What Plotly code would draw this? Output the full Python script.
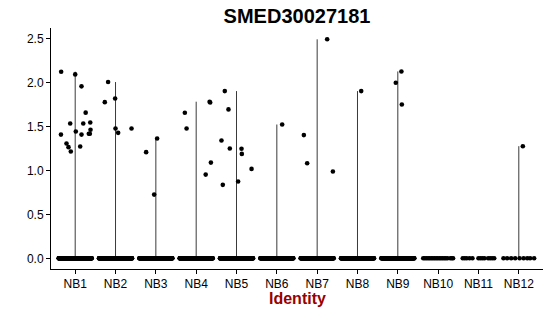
import numpy as np
import plotly.graph_objects as go

categories = ["NB1", "NB2", "NB3", "NB4", "NB5", "NB6", "NB7", "NB8", "NB9", "NB10", "NB11", "NB12"]

# non-zero expression values per identity
nonzero_values = [
    [2.127, 2.096, 1.96, 1.66, 1.537, 1.537, 1.548, 1.465, 1.42, 1.42, 1.445, 1.41, 1.41, 1.308, 1.267, 1.217, 1.274],
    [2.009, 1.78, 1.822, 1.48, 1.43, 1.48],
    [1.21, 1.366, 0.726],
    [1.659, 1.48, 1.785, 1.775, 1.091, 0.954],
    [1.906, 1.697, 1.343, 1.251, 1.248, 1.19, 1.019, 0.837, 0.875],
    [1.525],
    [2.496, 1.404, 1.084, 0.989],
    [1.906],
    [2.13, 2.001, 1.753],
    [],
    [],
    [1.278],
]
# observed horizontal jitter of those points (category units)
jitter_offsets = [
    [-0.348, 0.0, 0.156, 0.26, -0.124, 0.20, 0.373, 0.38, 0.338, 0.363, 0.015, 0.156, -0.353, -0.216, -0.166, -0.109, 0.124],
    [-0.184, -0.266, -0.01, 0.0, 0.065, 0.397],
    [-0.241, 0.032, -0.042],
    [-0.281, -0.238, 0.333, 0.348, 0.365, 0.236],
    [-0.29, -0.199, -0.373, -0.166, 0.124, 0.132, 0.373, -0.34, 0.04],
    [0.132],
    [0.248, -0.33, -0.248, 0.39],
    [0.092],
    [0.089, -0.05, 0.1],
    [],
    [],
    [0.1],
]
# estimated number of cells with zero expression
zero_counts = [220, 220, 180, 220, 220, 150, 150, 170, 130, 24, 14, 9]
# observed jitter of zero-valued cells in the sparse identities
zero_offsets_sparse = {
    9: [-0.37, -0.33, -0.29, -0.25, -0.21, -0.17, -0.13, -0.09, -0.05, -0.01, 0.03,
        0.07, 0.11, 0.15, 0.19, 0.23, 0.30, 0.34, 0.37],
    10: [-0.39, -0.34, -0.29, -0.22, -0.15, 0.0, 0.05, 0.10, 0.15, 0.24, 0.29, 0.34, 0.39],
    11: [-0.38, -0.29, -0.19, -0.09, 0.02, 0.12, 0.21, 0.28, 0.38],
}
zero_spread = 0.41

yticks = [0.0, 0.5, 1.0, 1.5, 2.0, 2.5]

fig = go.Figure()

# violin outlines (collapsed to thin lines since most values are zero)
lx, ly = [], []
for i, vals in enumerate(nonzero_values):
    if vals:
        lx += [i + 1, i + 1, None]
        ly += [0, max(vals), None]
fig.add_trace(go.Scatter(x=lx, y=ly, mode="lines",
                         line=dict(color="#3a3a3a", width=1),
                         hoverinfo="skip", showlegend=False))

# points
px, py = [], []
for i, (vals, offs) in enumerate(zip(nonzero_values, jitter_offsets)):
    if i in zero_offsets_sparse:
        zo = zero_offsets_sparse[i]
    else:
        zo = np.linspace(-zero_spread, zero_spread, zero_counts[i])
    px += [i + 1 + o for o in zo]
    py += [0.0] * len(zo)
    px += [i + 1 + o for o in offs]
    py += vals
fig.add_trace(go.Scatter(x=px, y=py, mode="markers",
                         marker=dict(color="black", size=4.6, line=dict(width=0)),
                         showlegend=False))

font_family = "Liberation Sans, Arial, sans-serif"

fig.update_layout(
    width=550, height=316,
    margin=dict(l=51, r=7, t=28, b=47),
    paper_bgcolor="white", plot_bgcolor="white",
    font=dict(family=font_family, color="black", size=12),
    title=dict(text="SMED30027181", x=(51 + 543) / 2 / 550, xanchor="center",
               y=1 - 16 / 316, yanchor="middle", yref="container",
               font=dict(size=20, family=font_family, color="black", weight="bold")),
    xaxis=dict(range=[0.4, 12.6], tickmode="array",
               tickvals=list(range(1, len(categories) + 1)), ticktext=categories,
               showgrid=False, zeroline=False, showline=True, linecolor="black", linewidth=1,
               ticks="outside", ticklen=4, tickcolor="black", tickwidth=1,
               tickfont=dict(size=12, color="black")),
    yaxis=dict(range=[-0.122, 2.625], tickmode="array", tickvals=yticks,
               ticktext=[f"{v:.1f}" for v in yticks],
               showgrid=False, zeroline=False, showline=True, linecolor="black", linewidth=1,
               ticks="outside", ticklen=4, tickcolor="black", tickwidth=1,
               tickfont=dict(size=12, color="black")),
    annotations=[dict(text="Identity", x=0.5, xref="paper", y=-29 / 241, yref="paper",
                      xanchor="center", yanchor="middle", showarrow=False,
                      font=dict(size=16, family=font_family, color="#990000", weight="bold"))],
)

fig.write_html("out.html")
